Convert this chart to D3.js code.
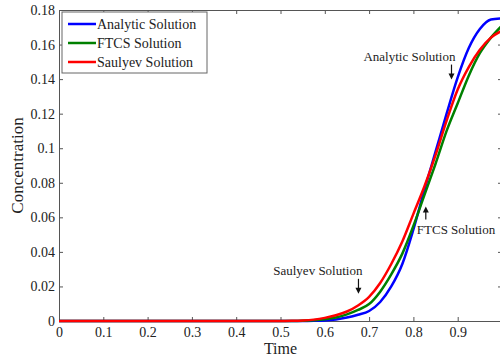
<!DOCTYPE html>
<html>
<head>
<meta charset="utf-8">
<script src="https://cdn.jsdelivr.net/npm/d3@7"></script>
<style>
  body { margin: 0; background: #fff; }
  svg { display: block; font-family: "Liberation Serif", "DejaVu Serif", serif; }
</style>
</head>
<body>
<div id="chart"></div>
<script>
// time points
const times = [0, 0.5, 0.525, 0.55, 0.575, 0.6, 0.625, 0.65, 0.675, 0.7, 0.725, 0.75, 0.775,
               0.8, 0.825, 0.85, 0.875, 0.9, 0.925, 0.95, 0.975, 1.0];
// concentration values
const analytic = [0, 0, 0, 0, 0.0001, 0.0003, 0.0009, 0.002, 0.0036, 0.0058, 0.011, 0.020, 0.033,
                  0.053, 0.076, 0.098, 0.120, 0.141, 0.158, 0.169, 0.1745, 0.1752];
const ftcs = [0, 0, 0, 0.0001, 0.0004, 0.001, 0.002, 0.0038, 0.0064, 0.0098, 0.017, 0.027, 0.039,
              0.055, 0.073, 0.091, 0.110, 0.126, 0.142, 0.155, 0.164, 0.171];
const saulyev = [0, 0, 0.0001, 0.0003, 0.0008, 0.0018, 0.0033, 0.0055, 0.009, 0.014, 0.022, 0.033, 0.046,
                 0.062, 0.078, 0.096, 0.116, 0.134, 0.147, 0.157, 0.164, 0.168];

const seriesNames = ['Analytic Solution', 'FTCS Solution', 'Saulyev Solution'];
const seriesValues = [analytic, ftcs, saulyev];
const seriesColors = ['#0000ff', '#008000', '#ff0000'];

const xTicks = [0, 0.1, 0.2, 0.3, 0.4, 0.5, 0.6, 0.7, 0.8, 0.9, 1];
const yTicks = [0, 0.02, 0.04, 0.06, 0.08, 0.1, 0.12, 0.14, 0.16, 0.18];

// annotations: label, point on curve (time, conc), arrow direction
const notes = [
  { text: 'Analytic Solution', t: 0.886, c: 0.138, dir: 'down' },
  { text: 'FTCS Solution', t: 0.828, c: 0.068, dir: 'up' },
  { text: 'Saulyev Solution', t: 0.676, c: 0.014, dir: 'down' }
];

const width = 500, height = 362;
const margin = { top: 10, left: 59, right: -2, bottom: 41 };

const svg = d3.select('#chart').append('svg')
  .attr('width', width)
  .attr('height', height);

const x = d3.scaleLinear().domain([0, 1]).range([margin.left, width - margin.right]);
const y = d3.scaleLinear().domain([0, 0.18]).range([height - margin.bottom, margin.top]);

const fmt = d => String(+d.toFixed(2));
const axisColor = '#555';

// axes, ticks pointing inward (the right edge of the frame falls just outside the picture)
const gx = svg.append('g')
  .attr('transform', 'translate(0,' + y(0) + ')')
  .call(d3.axisBottom(x).tickValues(xTicks).tickFormat(d => d === 1 ? '' : fmt(d))
    .tickSizeInner(-4).tickSizeOuter(0).tickPadding(6));
const gxTop = svg.append('g')
  .attr('transform', 'translate(0,' + y(0.18) + ')')
  .call(d3.axisTop(x).tickValues(xTicks).tickFormat('').tickSizeInner(-4).tickSizeOuter(0));
const gy = svg.append('g')
  .attr('transform', 'translate(' + x(0) + ',0)')
  .call(d3.axisLeft(y).tickValues(yTicks).tickFormat(fmt).tickSizeInner(-4).tickSizeOuter(0).tickPadding(4));
const gyRight = svg.append('g')
  .attr('transform', 'translate(' + x(1) + ',0)')
  .call(d3.axisRight(y).tickValues(yTicks).tickFormat('').tickSizeInner(-4).tickSizeOuter(0));

[gx, gxTop, gy, gyRight].forEach(g => {
  g.selectAll('path, line').attr('stroke', axisColor);
  g.selectAll('text').attr('fill', '#222').style('font-size', '14px')
    .style('font-family', '"Liberation Serif", serif');
});

// curves
const line = d3.line()
  .x((d, i) => x(times[i]))
  .y(d => y(d))
  .curve(d3.curveMonotoneX);

svg.append('g')
  .selectAll('path')
  .data(seriesValues)
  .join('path')
  .attr('d', line)
  .attr('fill', 'none')
  .attr('stroke', (d, i) => seriesColors[i])
  .attr('stroke-width', 2.5);

// axis labels
svg.append('text')
  .attr('x', (x(0) + x(1)) / 2)
  .attr('y', 354)
  .attr('text-anchor', 'middle')
  .style('font-size', '16px')
  .attr('fill', '#222')
  .text('Time');

svg.append('text')
  .attr('transform', 'translate(23,' + ((y(0) + y(0.18)) / 2) + ') rotate(-90)')
  .attr('text-anchor', 'middle')
  .style('font-size', '17px')
  .attr('fill', '#222')
  .text('Concentration');

// annotations with arrows
const ann = svg.append('g');
notes.forEach(n => {
  const px = x(n.t), py = y(n.c);
  if (n.dir === 'down') {
    const y0 = py - 18, y1 = py - 3;
    ann.append('line').attr('x1', px).attr('x2', px).attr('y1', y0).attr('y2', y1 - 5)
      .attr('stroke', '#111').attr('stroke-width', 1.2);
    ann.append('path').attr('d', `M${px - 3},${y1 - 6}L${px + 3},${y1 - 6}L${px},${y1}Z`).attr('fill', '#111');
    ann.append('text').attr('x', px + 4).attr('y', y0 - 4).attr('text-anchor', 'end')
      .style('font-size', '13px').attr('fill', '#222').text(n.text);
  } else {
    const y0 = py + 3, y1 = py + 16;
    ann.append('line').attr('x1', px).attr('x2', px).attr('y1', y0 + 5).attr('y2', y1)
      .attr('stroke', '#111').attr('stroke-width', 1.2);
    ann.append('path').attr('d', `M${px - 3},${y0 + 6}L${px + 3},${y0 + 6}L${px},${y0}Z`).attr('fill', '#111');
    ann.append('text').attr('x', px - 9).attr('y', y1 + 14)
      .style('font-size', '13px').attr('fill', '#222').text(n.text);
  }
});

// legend
const legend = svg.append('g').attr('transform', 'translate(62,12)');
legend.append('rect')
  .attr('width', 145).attr('height', 61)
  .attr('fill', '#fff').attr('stroke', '#666').attr('stroke-width', 1);
seriesNames.forEach((name, i) => {
  const row = legend.append('g').attr('transform', 'translate(0,' + (12 + i * 19) + ')');
  row.append('line').attr('x1', 6).attr('x2', 34).attr('y1', 0).attr('y2', 0)
    .attr('stroke', seriesColors[i]).attr('stroke-width', 2.5);
  row.append('text').attr('x', 35).attr('y', 5)
    .style('font-size', '14px').attr('fill', '#222').text(name);
});
</script>
</body>
</html>
